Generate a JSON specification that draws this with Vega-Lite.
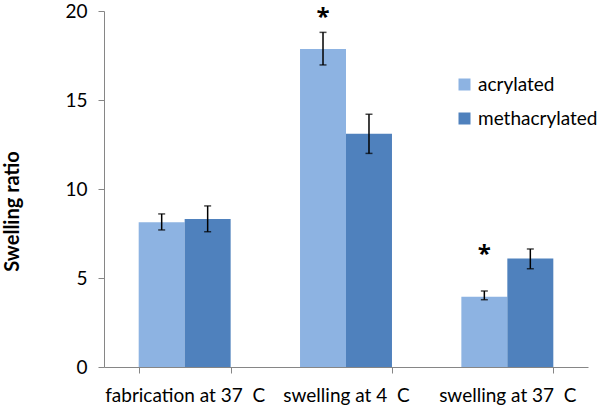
{
  "$schema": "https://vega.github.io/schema/vega-lite/v6.json",
  "width": 484,
  "height": 356,
  "autosize": "none",
  "padding": {"left": 104, "top": 11, "right": 15, "bottom": 48},
  "background": "white",
  "config": {
    "view": {"stroke": null},
    "font": "Lato"
  },
  "data": {
    "values": [
      {"cat": "fabrication at 37 \u00a0C", "series": "acrylated", "value": 8.13, "lo": 7.7, "hi": 8.6},
      {"cat": "fabrication at 37 \u00a0C", "series": "methacrylated", "value": 8.31, "lo": 7.6, "hi": 9.05},
      {"cat": "swelling at 4 \u00a0C", "series": "acrylated", "value": 17.87, "lo": 16.97, "hi": 18.8, "star": 19.9},
      {"cat": "swelling at 4 \u00a0C", "series": "methacrylated", "value": 13.1, "lo": 12.0, "hi": 14.2},
      {"cat": "swelling at 37 \u00a0C", "series": "acrylated", "value": 3.95, "lo": 3.78, "hi": 4.27, "star": 6.6},
      {"cat": "swelling at 37 \u00a0C", "series": "methacrylated", "value": 6.1, "lo": 5.52, "hi": 6.63}
    ]
  },
  "encoding": {
    "x": {
      "field": "cat",
      "type": "nominal",
      "sort": null,
      "scale": {"paddingInner": 0.43, "paddingOuter": 0.215},
      "axis": {
        "title": null,
        "labelAngle": 0,
        "labelFontSize": 19,
        "labelColor": "#000000",
        "labelPadding": 13,
        "tickBand": "extent",
        "tickSize": 6,
        "tickColor": "#868686",
        "domainColor": "#868686",
        "grid": false
      }
    },
    "xOffset": {"field": "series", "type": "nominal", "sort": ["acrylated", "methacrylated"]}
  },
  "layer": [
    {
      "mark": {"type": "bar"},
      "encoding": {
        "y": {
          "field": "value",
          "type": "quantitative",
          "scale": {"domain": [0, 20]},
          "axis": {
            "title": "Swelling ratio",
            "titleFontSize": 20,
            "titleFontWeight": "bold",
            "titleColor": "#000000",
            "titleBaseline": "middle",
            "titleX": -92,
            "titleY": 200,
            "values": [0, 5, 10, 15, 20],
            "labelFontSize": 19,
            "labelColor": "#000000",
            "labelPadding": 11,
            "tickSize": 6,
            "tickColor": "#868686",
            "domainColor": "#868686",
            "grid": false
          }
        },
        "color": {
          "field": "series",
          "type": "nominal",
          "scale": {"domain": ["acrylated", "methacrylated"], "range": ["#8DB3E2", "#4F81BD"]},
          "legend": {
            "title": null,
            "orient": "none",
            "legendX": 351,
            "legendY": 64,
            "symbolType": "square",
            "symbolSize": 144,
            "symbolStrokeWidth": 0,
            "labelFontSize": 19,
            "labelColor": "#000000",
            "rowPadding": 14,
            "labelOffset": 4
          }
        }
      }
    },
    {
      "mark": {"type": "rule", "color": "#000000", "strokeWidth": 1.5},
      "encoding": {
        "y": {"field": "lo", "type": "quantitative"},
        "y2": {"field": "hi"}
      }
    },
    {
      "mark": {"type": "tick", "color": "#000000", "size": 7, "thickness": 1.5},
      "encoding": {"y": {"field": "lo", "type": "quantitative"}}
    },
    {
      "mark": {"type": "tick", "color": "#000000", "size": 7, "thickness": 1.5},
      "encoding": {"y": {"field": "hi", "type": "quantitative"}}
    },
    {
      "transform": [{"filter": "datum.star != null"}],
      "mark": {"type": "text", "text": "*", "font": "Open Sans", "fontSize": 24, "fontWeight": "bold", "baseline": "middle", "dy": 5, "color": "#000000"},
      "encoding": {"y": {"field": "star", "type": "quantitative"}}
    }
  ]
}
